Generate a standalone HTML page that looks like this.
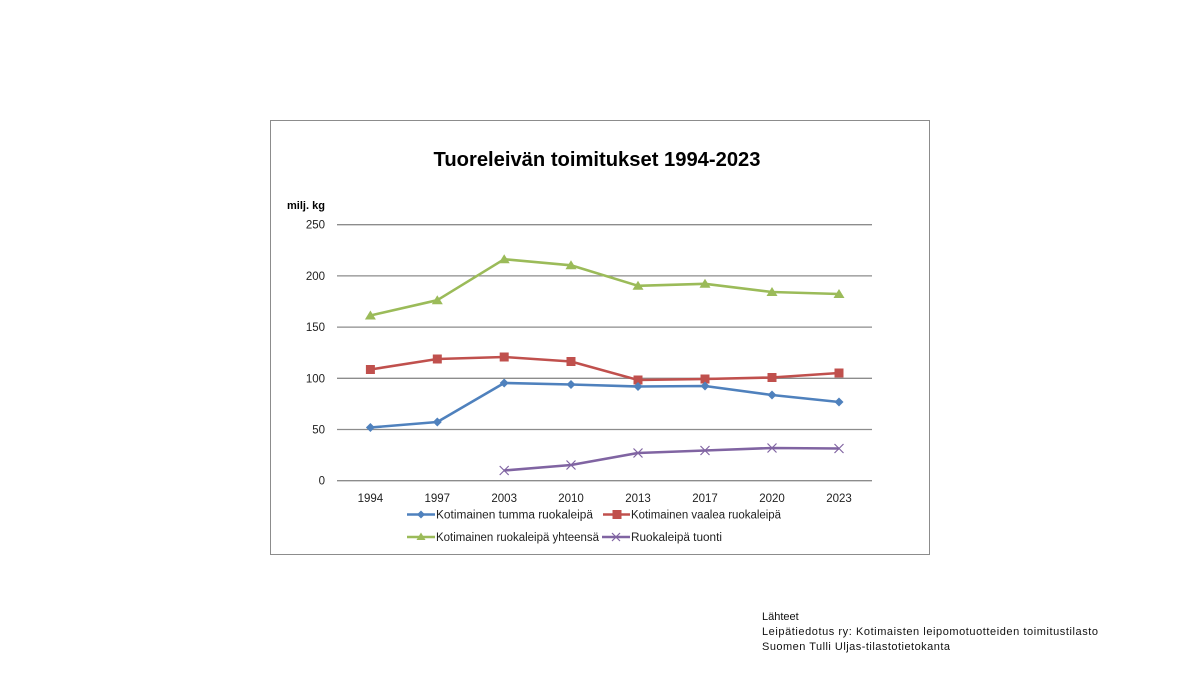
<!DOCTYPE html>
<html><head><meta charset="utf-8"><style>
html,body{margin:0;padding:0;background:#fff;}
svg{display:block;}
text{font-family:"Liberation Sans",sans-serif;}
</style></head><body>
<svg width="1200" height="675" viewBox="0 0 1200 675" xmlns="http://www.w3.org/2000/svg">
<rect x="0" y="0" width="1200" height="675" fill="#fff"/>
<rect x="270.5" y="120.5" width="659" height="434" fill="#fff" stroke="#8c8c8c" stroke-width="1"/>
<text x="597" y="166" font-size="20" font-weight="bold" text-anchor="middle" textLength="327" lengthAdjust="spacingAndGlyphs" fill="#000">Tuoreleivän toimitukset 1994-2023</text>
<text x="287" y="209" font-size="11" font-weight="bold" textLength="38" lengthAdjust="spacingAndGlyphs" fill="#000">milj. kg</text>
<g stroke="#8c8c8c" stroke-width="1.3">
<line x1="337" y1="224.7" x2="872" y2="224.7"/>
<line x1="337" y1="275.9" x2="872" y2="275.9"/>
<line x1="337" y1="327.1" x2="872" y2="327.1"/>
<line x1="337" y1="378.3" x2="872" y2="378.3"/>
<line x1="337" y1="429.5" x2="872" y2="429.5"/>
<line x1="337" y1="480.7" x2="872" y2="480.7"/>
</g>
<g font-size="11.5" fill="#222" text-anchor="end">
<text x="325" y="228.7">250</text>
<text x="325" y="279.9">200</text>
<text x="325" y="331.1">150</text>
<text x="325" y="382.3">100</text>
<text x="325" y="433.5">50</text>
<text x="325" y="484.7">0</text>
</g>
<g font-size="11.5" fill="#222" text-anchor="middle">
<text x="370.4" y="502">1994</text>
<text x="437.3" y="502">1997</text>
<text x="504.2" y="502">2003</text>
<text x="571" y="502">2010</text>
<text x="638" y="502">2013</text>
<text x="705" y="502">2017</text>
<text x="772" y="502">2020</text>
<text x="839" y="502">2023</text>
</g>
<!-- yhteensä (green) -->
<polyline fill="none" stroke="#9bbb59" stroke-width="2.6" stroke-linejoin="round" points="370.4,315.5 437.3,300.2 504.2,259.2 571,265.3 638,285.8 705,283.8 772,292 839,294"/>
<g fill="#9bbb59">
<polygon points="370.4,310.5 375.9,319.5 364.9,319.5"/>
<polygon points="437.3,295.2 442.8,304.2 431.8,304.2"/>
<polygon points="504.2,254.2 509.7,263.2 498.7,263.2"/>
<polygon points="571,260.3 576.5,269.3 565.5,269.3"/>
<polygon points="638,280.8 643.5,289.8 632.5,289.8"/>
<polygon points="705,278.8 710.5,287.8 699.5,287.8"/>
<polygon points="772,287 777.5,296 766.5,296"/>
<polygon points="839,289 844.5,298 833.5,298"/>
</g>
<!-- vaalea (red) -->
<polyline fill="none" stroke="#c0504d" stroke-width="2.6" stroke-linejoin="round" points="370.4,369.5 437.3,359 504.2,357 571,361.5 638,380 705,379 772,377.5 839,373"/>
<g fill="#c0504d">
<rect x="365.9" y="365" width="9" height="9"/>
<rect x="432.8" y="354.5" width="9" height="9"/>
<rect x="499.7" y="352.5" width="9" height="9"/>
<rect x="566.5" y="357" width="9" height="9"/>
<rect x="633.5" y="375.5" width="9" height="9"/>
<rect x="700.5" y="374.5" width="9" height="9"/>
<rect x="767.5" y="373" width="9" height="9"/>
<rect x="834.5" y="368.5" width="9" height="9"/>
</g>
<!-- tumma (blue) -->
<polyline fill="none" stroke="#4f81bd" stroke-width="2.6" stroke-linejoin="round" points="370.4,427.5 437.3,422 504.2,383 571,384.5 638,386.5 705,386 772,395 839,402"/>
<g fill="#4f81bd">
<polygon points="370.4,423 374.9,427.5 370.4,432 365.9,427.5"/>
<polygon points="437.3,417.5 441.8,422 437.3,426.5 432.8,422"/>
<polygon points="504.2,378.5 508.7,383 504.2,387.5 499.7,383"/>
<polygon points="571,380 575.5,384.5 571,389 566.5,384.5"/>
<polygon points="638,382 642.5,386.5 638,391 633.5,386.5"/>
<polygon points="705,381.5 709.5,386 705,390.5 700.5,386"/>
<polygon points="772,390.5 776.5,395 772,399.5 767.5,395"/>
<polygon points="839,397.5 843.5,402 839,406.5 834.5,402"/>
</g>
<!-- tuonti (purple) -->
<polyline fill="none" stroke="#8064a2" stroke-width="2.6" stroke-linejoin="round" points="504.2,470.5 571,465 638,453 705,450.5 772,448 839,448.5"/>
<g stroke="#8064a2" stroke-width="1.2">
<path d="M499.7,466 L508.7,475 M499.7,475 L508.7,466"/>
<path d="M566.5,460.5 L575.5,469.5 M566.5,469.5 L575.5,460.5"/>
<path d="M633.5,448.5 L642.5,457.5 M633.5,457.5 L642.5,448.5"/>
<path d="M700.5,446 L709.5,455 M700.5,455 L709.5,446"/>
<path d="M767.5,443.5 L776.5,452.5 M767.5,452.5 L776.5,443.5"/>
<path d="M834.5,444 L843.5,453 M834.5,453 L843.5,444"/>
</g>
<!-- legend -->
<line x1="407" y1="514.5" x2="435" y2="514.5" stroke="#4f81bd" stroke-width="2.6"/>
<polygon points="421,510.5 425,514.5 421,518.5 417,514.5" fill="#4f81bd"/>
<text x="436" y="518.5" font-size="11.5" fill="#222" textLength="157" lengthAdjust="spacingAndGlyphs">Kotimainen tumma ruokaleipä</text>
<line x1="603" y1="514.5" x2="630" y2="514.5" stroke="#c0504d" stroke-width="2.6"/>
<rect x="612.5" y="510" width="9" height="9" fill="#c0504d"/>
<text x="631" y="518.5" font-size="11.5" fill="#222" textLength="150" lengthAdjust="spacingAndGlyphs">Kotimainen vaalea ruokaleipä</text>
<line x1="407" y1="537" x2="435" y2="537" stroke="#9bbb59" stroke-width="2.6"/>
<polygon points="421,532.5 425.5,540 416.5,540" fill="#9bbb59"/>
<text x="436" y="541" font-size="11.5" fill="#222" textLength="163" lengthAdjust="spacingAndGlyphs">Kotimainen ruokaleipä yhteensä</text>
<line x1="602" y1="537" x2="630" y2="537" stroke="#8064a2" stroke-width="2.6"/>
<path d="M612,533 L620,541 M612,541 L620,533" stroke="#8064a2" stroke-width="1.2"/>
<text x="631" y="541" font-size="11.5" fill="#222" textLength="91" lengthAdjust="spacingAndGlyphs">Ruokaleipä tuonti</text>
<!-- sources -->
<g font-size="11" fill="#111">
<text x="762" y="620">Lähteet</text>
<text x="762" y="635" textLength="336" lengthAdjust="spacing">Leipätiedotus ry: Kotimaisten leipomotuotteiden toimitustilasto</text>
<text x="762" y="650" textLength="188" lengthAdjust="spacing">Suomen Tulli Uljas-tilastotietokanta</text>
</g>
</svg>
</body></html>
